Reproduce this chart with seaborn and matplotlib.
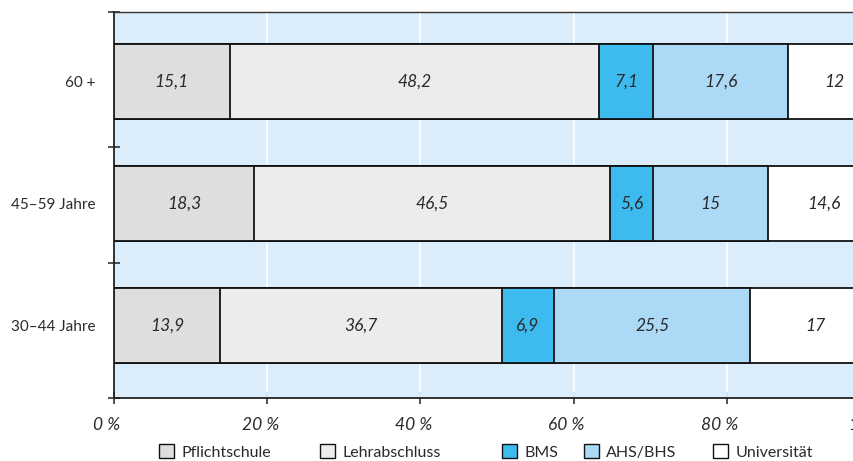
import matplotlib
matplotlib.use("Agg")
import matplotlib.pyplot as plt
import matplotlib.patches as mpatches
import matplotlib.transforms as mtransforms
import numpy as np
import pandas as pd
import seaborn as sns

# Bildungsabschluss nach Altersgruppe (Anteile in %)
groups = ["60 +", "45–59 Jahre", "30–44 Jahre"]
levels = ["Pflichtschule", "Lehrabschluss", "BMS", "AHS/BHS", "Universität"]
pflichtschule = [15.1, 18.3, 13.9]
lehrabschluss = [48.2, 46.5, 36.7]
bms = [7.1, 5.6, 6.9]
ahs_bhs = [17.6, 15.0, 25.5]
universitaet = [12.0, 14.6, 17.0]
x_ticks = [0, 20, 40, 60, 80, 100]
x_ticklabels = ["0 %", "20 %", "40 %", "60 %", "80 %", "100 %"]

colors = ["#dedede", "#ececec", "#3dbbef", "#acdaf6", "#ffffff"]
bg = "#dbedfb"
txt = "#2a2a2a"

sns.set_theme(style="white")
plt.rcParams["font.family"] = ["Lato", "DejaVu Sans"]

df = pd.DataFrame({"Gruppe": groups, "Pflichtschule": pflichtschule,
                   "Lehrabschluss": lehrabschluss, "BMS": bms,
                   "AHS/BHS": ahs_bhs, "Universität": universitaet})
cum = df[levels].cumsum(axis=1)

fig = plt.figure(figsize=(8.54, 4.61), dpi=100)
ax = fig.add_axes([114 / 854, 1 - 398 / 461, 766 / 854, 386 / 461])
ax.set_facecolor(bg)

# stacked bars: draw cumulative totals from the right-most segment down
for lvl, col in reversed(list(zip(levels, colors))):
    sns.barplot(data=cum.assign(Gruppe=df["Gruppe"]), x=lvl, y="Gruppe",
                order=groups, orient="h", color=col, saturation=1,
                width=0.615, edgecolor="#111111", linewidth=1.3, ax=ax, zorder=3)

# segment values
for i, g in enumerate(groups):
    for lvl in levels:
        v = df.loc[i, lvl]
        center = cum.loc[i, lvl] - v / 2
        ax.text(center, i, f"{v:g}".replace(".", ","), ha="center", va="center",
                fontsize=12.5, style="italic", color=txt, zorder=5)

ax.set_xlim(0, 100)
ax.set_ylim(2.594, -0.57)
ax.set_xlabel("")
ax.set_ylabel("")

ax.set_yticks(range(len(groups)))
ax.set_yticklabels(groups, fontsize=11, color=txt)
ax.tick_params(axis="y", which="major", length=0, pad=13)
ax.set_yticks([-0.57, 0.535, 1.49, 2.594], minor=True)
ax.tick_params(axis="y", which="minor", direction="inout", length=9,
               width=1.1, color="#222222", left=True)

ax.set_xticks(x_ticks)
ax.set_xticklabels(x_ticklabels, fontsize=12.5, style="italic", color=txt)
ax.tick_params(axis="x", which="major", direction="inout", length=9,
               width=1.1, color="#222222", bottom=True, pad=9)
# italic percent labels sit slightly left of their ticks
shift = mtransforms.ScaledTranslation(-7 / 100, 0, fig.dpi_scale_trans)
for tick in ax.xaxis.get_major_ticks():
    tick.label1.set_transform(tick.label1.get_transform() + shift)
for x in x_ticks[1:-1]:
    ax.axvline(x, color="white", lw=1.2, zorder=1)

for side in ["left", "bottom"]:
    ax.spines[side].set_color("#222222")
    ax.spines[side].set_linewidth(1.3)
ax.spines["top"].set_color("#333333")
ax.spines["top"].set_linewidth(1.0)
ax.spines["right"].set_visible(False)

# legend entries, one per education level
legend_x = [159, 320, 502, 584, 713]
for lvl, col, lx in zip(levels, colors, legend_x):
    h = mpatches.Patch(facecolor=col, edgecolor="#111111", linewidth=1.0, label=lvl)
    leg = fig.legend(handles=[h], loc="center left",
                     bbox_to_anchor=(lx / 854, 1 - 452 / 461), frameon=False,
                     fontsize=11.5, handlelength=0.95, handleheight=0.95,
                     handletextpad=0.45, borderpad=0, borderaxespad=0,
                     labelcolor=txt)

fig.savefig("out.png", dpi=100)
